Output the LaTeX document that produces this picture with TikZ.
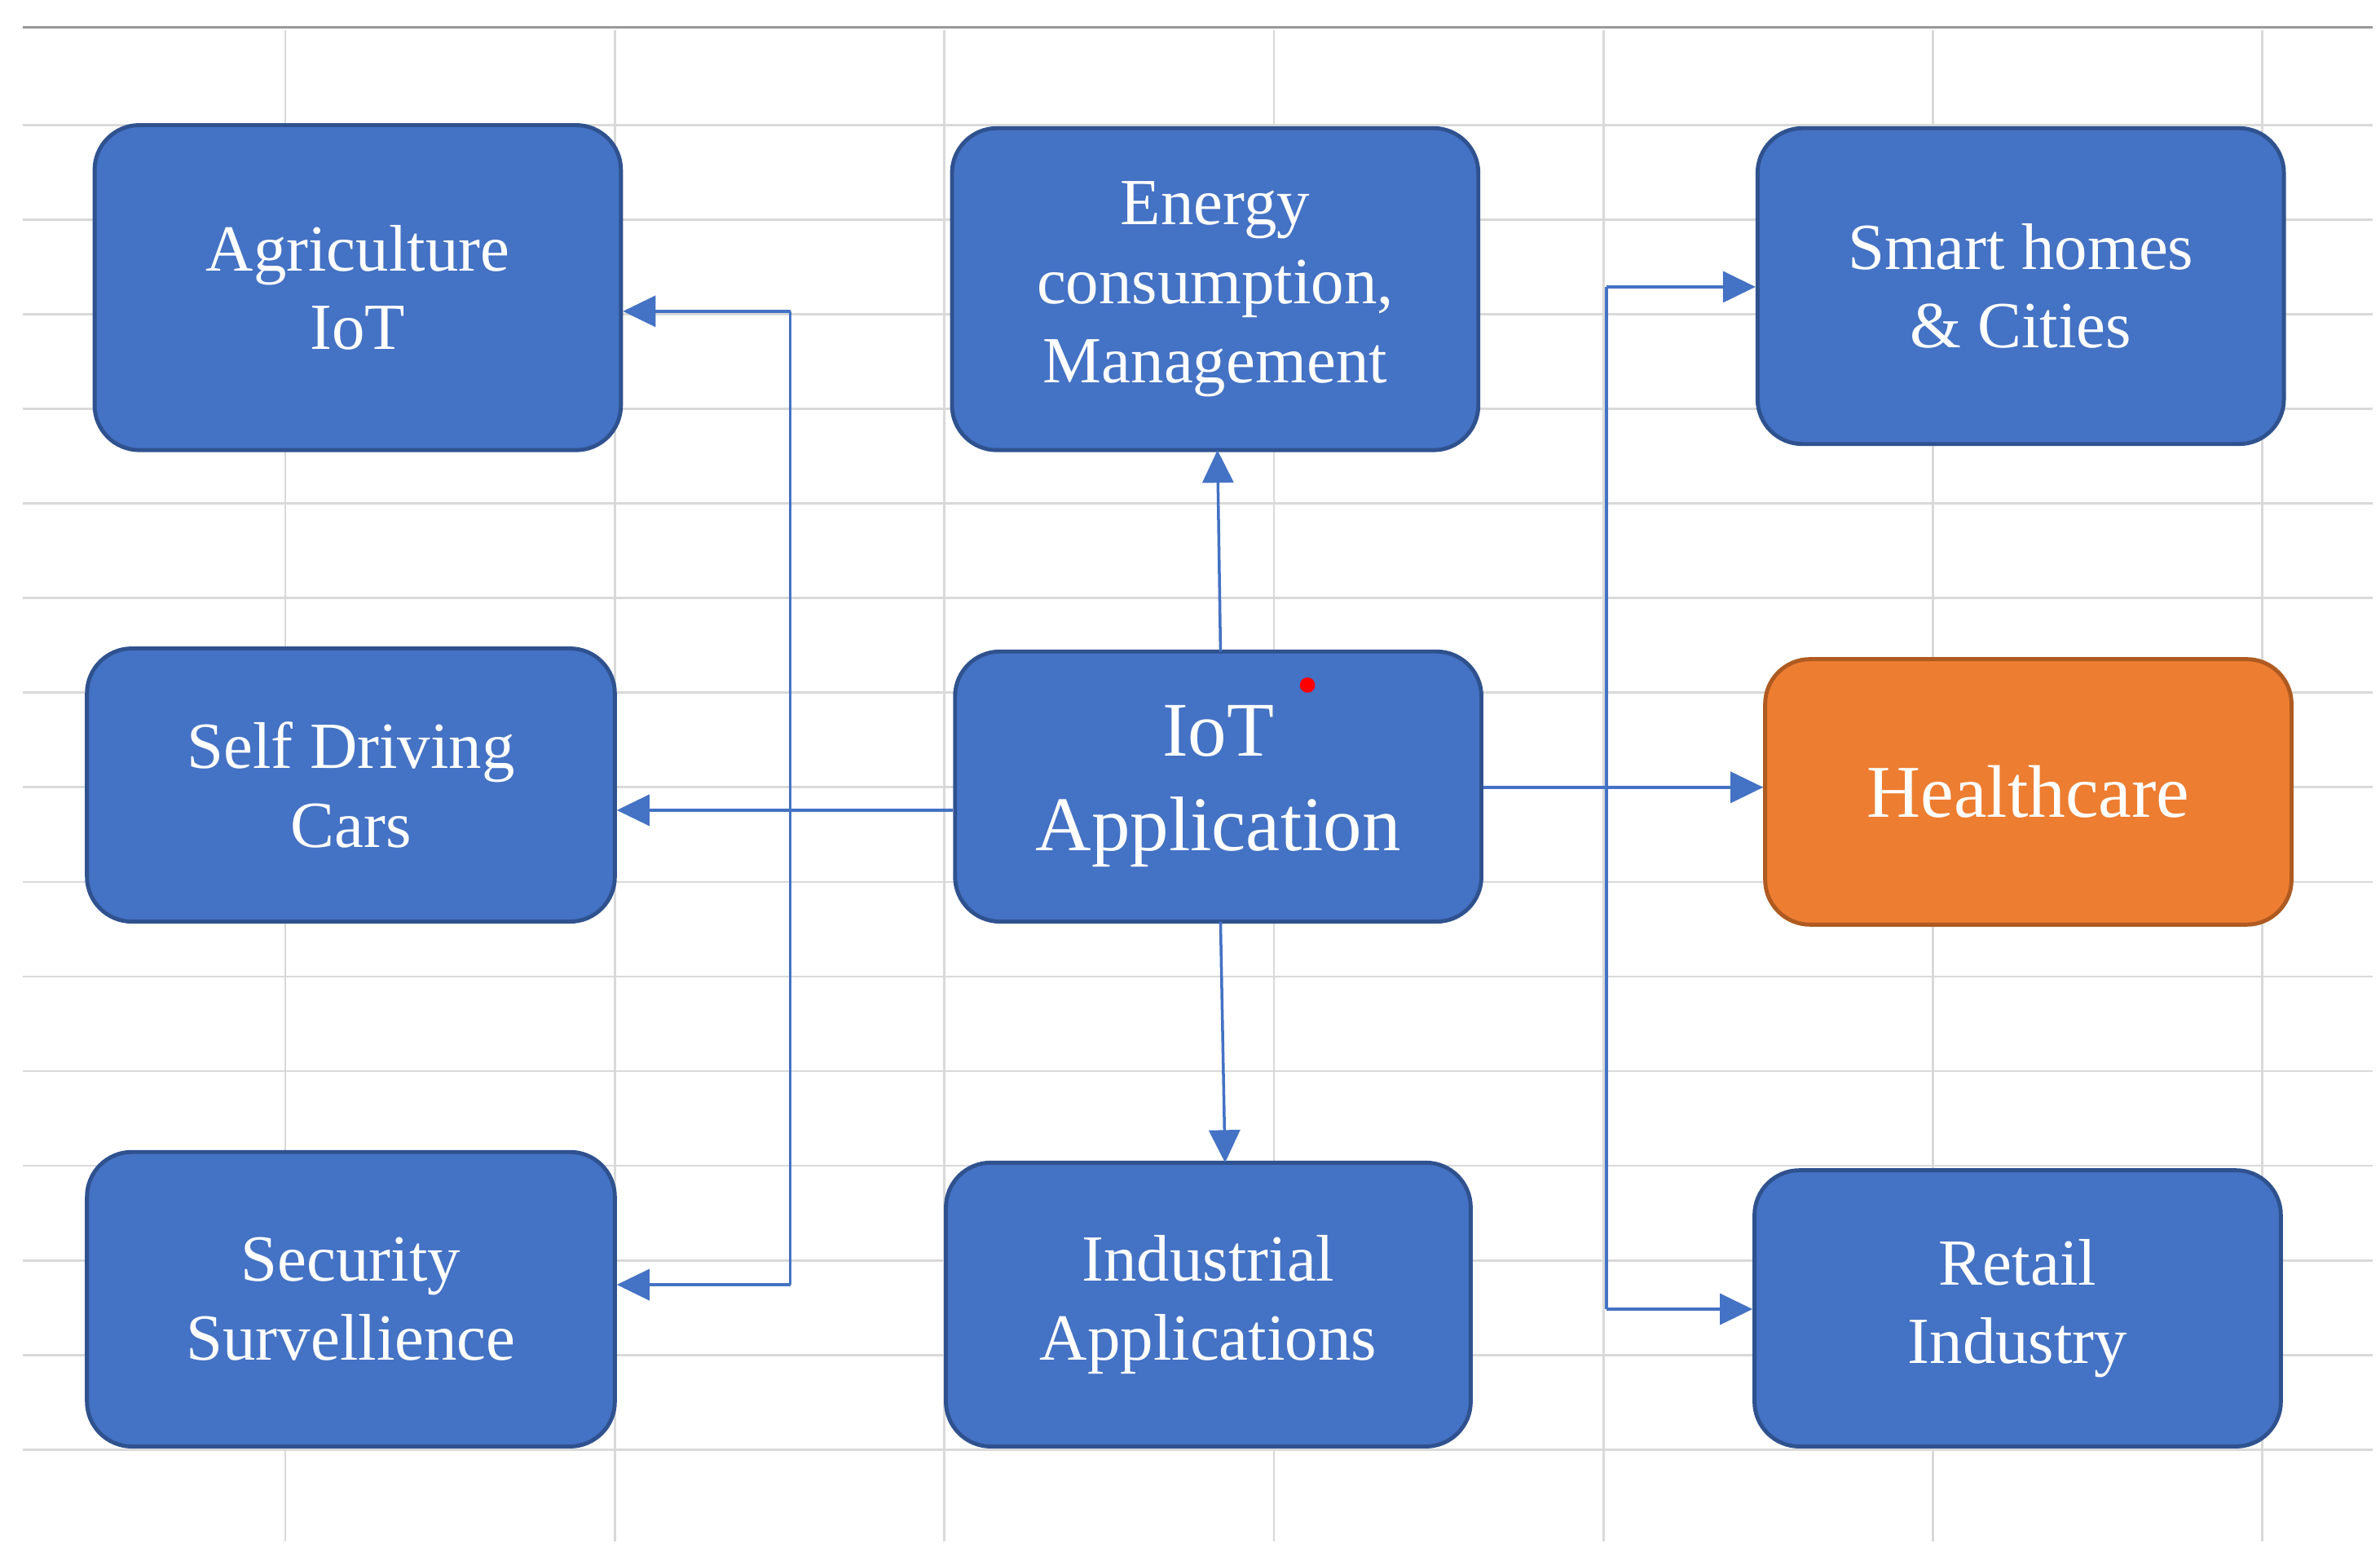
\documentclass[tikz,border=0pt]{standalone}
\usepackage{fontspec}
\setmainfont{Liberation Serif}
\usetikzlibrary{arrows.meta}
\definecolor{bl}{HTML}{4472C4}
\definecolor{bd}{HTML}{2F528F}
\definecolor{og}{HTML}{ED7D31}
\definecolor{od}{HTML}{AE5A21}
\definecolor{gr}{HTML}{D9D9D9}
\tikzset{
 box/.style={draw=bd,fill=bl,line width=1.4pt,rounded corners=0.55cm,text=white,align=center,font=\fontsize{23}{27.5}\selectfont,inner sep=0pt},
 conn/.style={draw=bl,line width=1pt,-{Triangle[length=0.4cm,width=0.38cm]}},
 plain/.style={draw=bl,line width=1pt}
}
\newcommand{\bx}[7][]{\node[box,#1,minimum width={(#4-#2)*0.018718cm},minimum height={(#5-#3)*0.018718cm}] (#7) at ({(#2+#4)/2},{(#3+#5)/2}) {#6};}
\begin{document}
\begin{tikzpicture}[x=0.018718cm,y=-0.018718cm]
\useasboundingbox (0,0) rectangle (1560,1023);
\foreach \x in {187,403,619,835,1051,1267,1483} \draw[gr,line width=0.8pt] (\x,20) -- (\x,1010);
\foreach \y in {82,144,...,1010} \draw[gr,line width=0.8pt] (15,\y) -- (1555,\y);
\draw[gray!80,line width=1pt] (15,18) -- (1555,18);
\bx{62}{82}{407}{295}{Agriculture\\IoT}{agr}
\bx{624}{84}{969}{295}{Energy\\consumption,\\Management}{ene}
\bx{1152}{84}{1497}{291}{Smart homes\\\& Cities}{sma}
\bx{57}{425}{403}{604}{Self Driving\\Cars}{sel}
\bx[font=\fontsize{27}{33}\selectfont]{626}{427}{971}{604}{IoT\\Application}{iot}
\bx[fill=og,draw=od,font=\fontsize{26}{30}\selectfont]{1157}{432}{1502}{606}{Healthcare}{hea}
\bx{57}{755}{403}{948}{Security\\Survellience}{sec}
\bx{620}{762}{964}{948}{Industrial\\Applications}{ind}
\bx{1150}{767}{1495}{948}{Retail\\Industry}{ret}
\fill[red] (857,449) circle (5);
\coordinate (lj) at (518,531);
\coordinate (lt) at (518,204);
\coordinate (lb) at (518,842);
\coordinate (rj) at (1053,516);
\coordinate (rt) at (1053,188);
\coordinate (rb) at (1053,858);
\draw[conn] (iot.west |- lj) -- (sel.east |- lj);
\draw[plain] (lt) -- (lb);
\draw[conn] (lt) -- (agr.east |- lt);
\draw[conn] (lb) -- (sec.east |- lb);
\draw[conn] (800,427) -- (798,295);
\draw[conn] (800,604) -- (803,762);
\draw[conn] (iot.east |- rj) -- (hea.west |- rj);
\draw[plain] (rt) -- (rb);
\draw[conn] (rt) -- (sma.west |- rt);
\draw[conn] (rb) -- (ret.west |- rb);
\end{tikzpicture}
\end{document}
